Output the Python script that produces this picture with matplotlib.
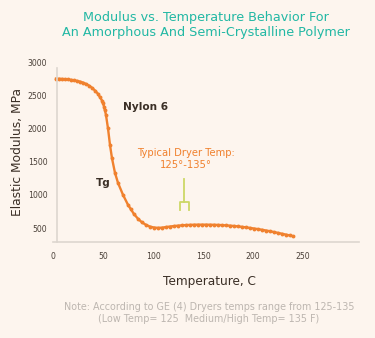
import matplotlib
matplotlib.use("Agg")
import matplotlib.pyplot as plt

# Nylon 6 modulus curve (temperature in C, modulus in MPa)
temp_c = [3, 6, 9, 12, 15, 18, 21, 24, 27, 30, 33, 36, 39, 42, 45, 47, 49, 50,
          51, 52, 53, 55, 57, 59, 62, 65, 70, 75, 78, 81, 85, 89, 93, 97, 101,
          105, 109, 113, 117, 121, 125, 129, 133, 137, 141, 145, 149, 153, 157,
          161, 165, 169, 173, 177, 181, 185, 189, 193, 197, 201, 205, 209, 213,
          217, 221, 225, 229, 233, 237, 240]
modulus_mpa = [2750, 2748, 2745, 2742, 2738, 2732, 2725, 2716, 2705, 2690, 2670,
               2645, 2612, 2570, 2520, 2470, 2420, 2380, 2330, 2270, 2200, 2000,
               1750, 1550, 1330, 1180, 1000, 850, 780, 710, 640, 585, 548, 522,
               508, 503, 506, 515, 523, 530, 536, 541, 545, 548, 550, 551, 551,
               551, 550, 549, 547, 544, 540, 536, 531, 525, 518, 510, 502, 493,
               484, 474, 463, 452, 440, 427, 414, 401, 388, 378]

x_ticks = [0, 50, 100, 150, 200, 250]
y_ticks = [500, 1000, 1500, 2000, 2500, 3000]

dryer_low, dryer_high = 127, 136
dryer_mid = 131

BG = "#fdf5ee"
ORANGE = "#f0812e"
TEAL = "#22b8a4"
DARK = "#3b2f26"
GREEN = "#cdd866"

fig = plt.figure(figsize=(3.75, 3.38), dpi=100, facecolor=BG)
ax = fig.add_axes([53 / 375, 1 - 242 / 338, 306 / 375, 180 / 338])
ax.set_facecolor(BG)

ax.plot(temp_c, modulus_mpa, color=ORANGE, linewidth=1.7, marker="o",
        markersize=2.8, markeredgewidth=0)

ax.set_xlim(0, 306)
ax.set_ylim(290, 3000)
ax.set_xticks(x_ticks)
ax.set_yticks(y_ticks)
ax.tick_params(length=0, labelsize=5.6, colors="#4a4038")
ax.tick_params(axis="x", pad=7)
ax.tick_params(axis="y", pad=7)

for side in ["top", "right"]:
    ax.spines[side].set_visible(False)
ax.spines["left"].set_position(("data", 4))
ax.spines["left"].set_bounds(290, 2910)
for side in ["left", "bottom"]:
    ax.spines[side].set_color("#ddd6cf")
    ax.spines[side].set_linewidth(1.2)

# dryer temperature marker
ax.plot([dryer_mid, dryer_mid], [1238, 892], color=GREEN, linewidth=1.3)
ax.plot([dryer_low, dryer_low, dryer_high, dryer_high], [771, 892, 892, 771],
        color=GREEN, linewidth=1.3)
ax.text(133, 1545, "Typical Dryer Temp:\n125°-135°", color=ORANGE,
        fontsize=7.2, ha="center", va="center", linespacing=1.25)

ax.text(70, 2320, "Nylon 6", color=DARK, fontsize=7.6, fontweight="bold",
        ha="left", va="center")
ax.text(43, 1180, "Tg", color=DARK, fontsize=7.6, fontweight="bold",
        ha="left", va="center")

fig.text(209 / 375, 1 - 281 / 338, "Temperature, C", fontsize=8.7, color=DARK,
         ha="center", va="center")
fig.text(18 / 375, 1 - 152 / 338, "Elastic Modulus, MPa", fontsize=8.8,
         color=DARK, ha="center", va="center", rotation=90)

fig.text(206 / 375, 1 - 25 / 338, "Modulus vs. Temperature Behavior For\n"
         "An Amorphous And Semi-Crystalline Polymer", color=TEAL,
         fontsize=9.2, ha="center", va="center", linespacing=1.25)
fig.text(209 / 375, 1 - 313 / 338, "Note: According to GE (4) Dryers temps range from 125-135\n"
         "(Low Temp= 125  Medium/High Temp= 135 F)", color="#bdb6b0",
         fontsize=6.9, ha="center", va="center", linespacing=1.3)

fig.savefig("out.png", dpi=100, facecolor=BG)
